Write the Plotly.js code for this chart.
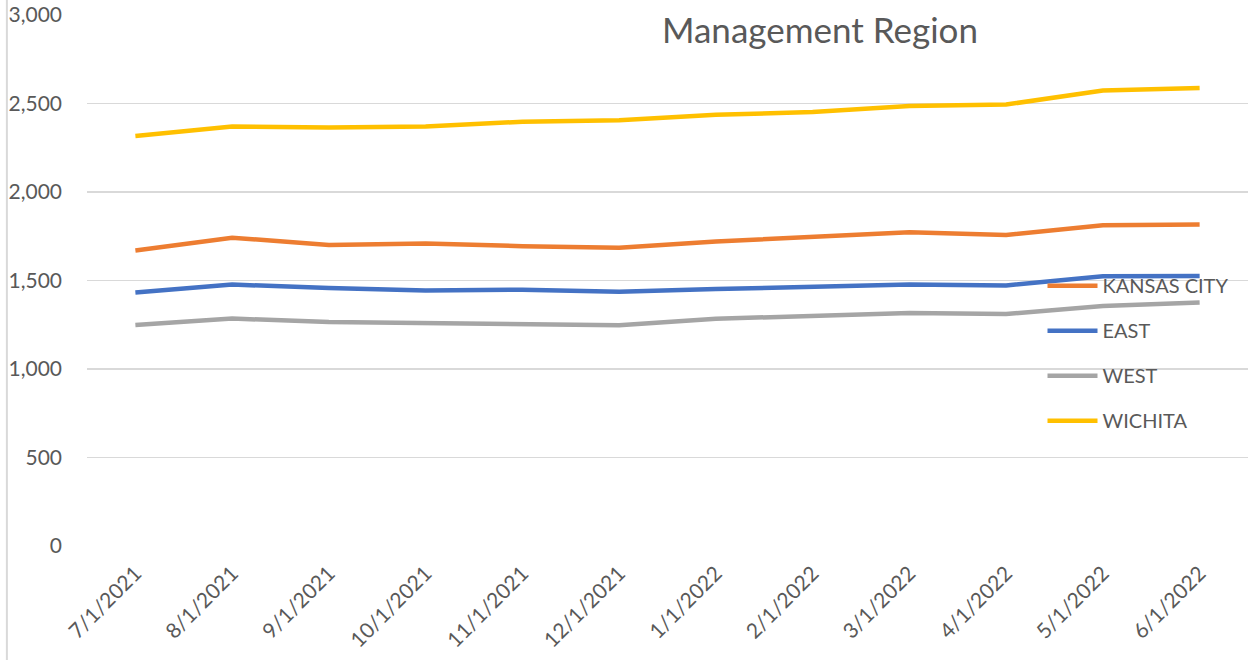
<!DOCTYPE html>
<html>
<head>
<meta charset="utf-8">
<script src="https://cdn.plot.ly/plotly-3.0.1.min.js"></script>
<style>html,body{margin:0;padding:0;background:#fff;}#chart{width:1251px;height:660px;}</style>
</head>
<body>
<div id="chart"></div>
<script>
const months = ["7/1/2021","8/1/2021","9/1/2021","10/1/2021","11/1/2021","12/1/2021","1/1/2022","2/1/2022","3/1/2022","4/1/2022","5/1/2022","6/1/2022"];
const kansasCity = [1670, 1742, 1700, 1709, 1694, 1685, 1720, 1745, 1772, 1757, 1812, 1817];
const east = [1432, 1477, 1458, 1443, 1448, 1436, 1452, 1465, 1477, 1472, 1524, 1526];
const west = [1248, 1285, 1266, 1260, 1259, 1247, 1284, 1297, 1316, 1311, 1356, 1376];
const wichita = [2316, 2370, 2364, 2370, 2397, 2405, 2436, 2452, 2486, 2494, 2574, 2587];
const seriesNames = ["KANSAS CITY","EAST","WEST","WICHITA"];
const seriesColors = ["#ED7D31","#4472C4","#A5A5A5","#FFC000"];
const seriesValues = [kansasCity, east, west, wichita];
const yTicks = [0, 500, 1000, 1500, 2000, 2500, 3000];
const titleText = "Management Region";

const FONT = "Lato, 'Open Sans', sans-serif";
const TXT = "#595959";

const traces = seriesNames.map((n, i) => ({
  type: "scatter", mode: "lines", name: n, x: months, y: seriesValues[i],
  legendgroup: n,
  line: {color: seriesColors[i], width: 4.5, shape: "linear"}
}));

const layout = {
  width: 1251, height: 660,
  margin: {l: 87, r: 3, t: 15, b: 114},
  paper_bgcolor: "#fff", plot_bgcolor: "#fff",
  font: {family: FONT, color: TXT, size: 21},
  showlegend: true,
  legend: {x: 0.823, y: 0.527, xanchor: "left", yanchor: "top", bgcolor: "rgba(0,0,0,0)",
           font: {family: FONT, size: 20, color: TXT}, tracegroupgap: 16, itemwidth: 50},
  xaxis: {type: "category", range: [-0.5, 11.5], tickangle: -45, showgrid: false, showline: false, zeroline: false,
          ticks: "", ticklabelstandoff: 10, tickfont: {family: FONT, size: 21, color: TXT}},
  yaxis: {range: [0, 3000], tickvals: yTicks, tickformat: ",d", showgrid: true, gridcolor: "#D9D9D9", gridwidth: 1.5,
          zeroline: false, showline: false, ticks: "", ticklabelstandoff: 24,
          tickfont: {family: FONT, size: 21, color: TXT}},
  annotations: [{xref: "paper", yref: "paper", x: 0.631, y: 0.974, xanchor: "center", yanchor: "middle",
                 text: titleText, showarrow: false, font: {family: FONT, size: 35, color: TXT}}],
  shapes: [{type: "line", xref: "paper", yref: "paper", x0: -0.069, x1: -0.069, y0: -0.3, y1: 1.1,
            line: {color: "#D9D9D9", width: 2}}]
};
Plotly.newPlot("chart", traces, layout, {displayModeBar: false, staticPlot: true});
</script>
</body>
</html>
